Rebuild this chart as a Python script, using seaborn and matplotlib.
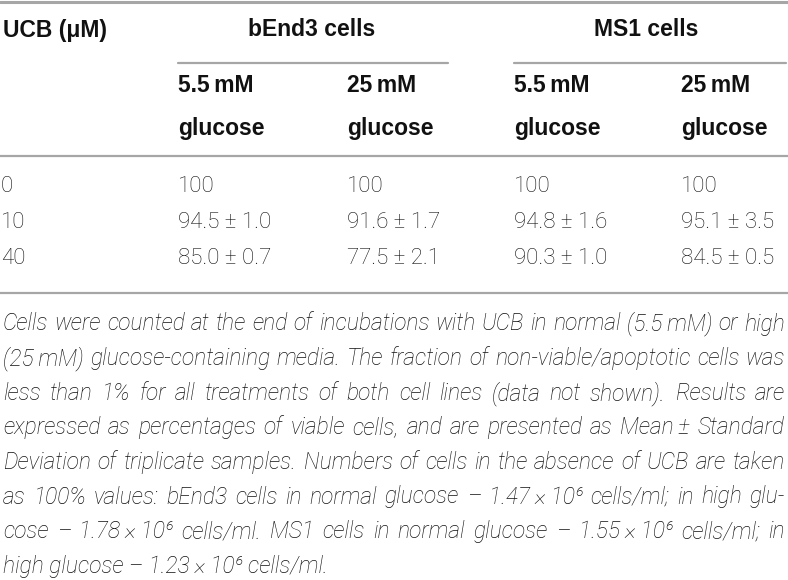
import matplotlib
matplotlib.use("Agg")
import matplotlib.pyplot as plt
import seaborn as sns

# -----------------------------
# Table data
# -----------------------------
ucb_doses = ["0", "10", "40"]
cell_lines = ["bEnd3 cells", "MS1 cells"]
glucose_levels = ["5.5\u2009mM\nglucose", "25\u2009mM\nglucose"]

bend3_normal_mean = [100, 94.5, 85.0]
bend3_normal_sd = [None, 1.0, 0.7]
bend3_high_mean = [100, 91.6, 77.5]
bend3_high_sd = [None, 1.7, 2.1]
ms1_normal_mean = [100, 94.8, 90.3]
ms1_normal_sd = [None, 1.6, 1.0]
ms1_high_mean = [100, 95.1, 84.5]
ms1_high_sd = [None, 3.5, 0.5]

caption_lines = [
    "Cells were counted at the end of incubations with UCB in normal (5.5\u2009mM) or high",
    "(25\u2009mM) glucose-containing media. The fraction of non-viable/apoptotic cells was",
    "less than 1% for all treatments of both cell lines (data not shown). Results are",
    "expressed as percentages of viable cells, and are presented as Mean\u2009± Standard",
    "Deviation of triplicate samples. Numbers of cells in the absence of UCB are taken",
    "as 100% values: bEnd3 cells in normal glucose \u2013 1.47\u2009×\u200910\u2076 cells/ml; in high glu-",
    "cose \u2013 1.78\u2009×\u200910\u2076 cells/ml. MS1 cells in normal glucose \u2013 1.55\u2009×\u200910\u2076 cells/ml; in",
    "high glucose \u2013 1.23\u2009×\u200910\u2076 cells/ml.",
]

sns.set_theme(style="white")
plt.rcParams["font.family"] = ["Roboto", "DejaVu Sans"]

BOLD = ["Liberation Sans", "DejaVu Sans"]
LIGHT = ["Roboto", "DejaVu Sans"]
RULE = "#a6a6a6"
INK = "#111111"

fig = plt.figure(figsize=(7.88, 5.80), dpi=100)
ax = fig.add_axes([0, 0, 1, 1])
ax.set_xlim(0, 788)
ax.set_ylim(580, 0)
ax.axis("off")
renderer = fig.canvas.get_renderer()


def text_width(s, **kw):
    t = ax.text(0, 0, s, **kw)
    w = t.get_window_extent(renderer).width
    t.remove()
    return w


# rules
ax.axhline(2, color=RULE, lw=2.2)
ax.plot([178, 448], [63, 63], color=RULE, lw=1.6)
ax.plot([514, 786], [63, 63], color=RULE, lw=1.6)
ax.axhline(156, color=RULE, lw=1.6)
ax.axhline(293, color=RULE, lw=1.6)

# header
hdr = dict(family=BOLD, weight="bold", fontsize=16.5, va="center", color=INK)
ax.text(3, 30, "UCB (\u03bcM)", ha="left", **hdr)
col_x = [178, 347, 514, 681]
group_center = [312, 646]
for name, cx in zip(cell_lines, group_center):
    ax.text(cx, 30, name, ha="center", **hdr)
for i, x in enumerate(col_x):
    top, bottom = glucose_levels[i % 2].split("\n")
    ax.text(x, 86, top, ha="left", **hdr)
    ax.text(x, 128, bottom, ha="left", **hdr)

# body
columns = [
    (bend3_normal_mean, bend3_normal_sd),
    (bend3_high_mean, bend3_high_sd),
    (ms1_normal_mean, ms1_normal_sd),
    (ms1_high_mean, ms1_high_sd),
]
row_y = [186, 222, 258]
body = dict(family=LIGHT, weight="light", fontsize=16, va="center", ha="left", color=INK)
for r, y in enumerate(row_y):
    ax.text(1, y, ucb_doses[r], **body)
    for (means, sds), x in zip(columns, col_x):
        if sds[r] is None:
            s = f"{means[r]:.0f}"
        else:
            s = f"{means[r]:.1f} ± {sds[r]:.1f}"
        ax.text(x, y, s, **body)

# caption, justified between the margins
left, right = 3, 785
cap = dict(family=LIGHT, weight="light", style="italic", fontsize=15, va="center", ha="left", color=INK)
natural = max(text_width(l, **cap) for l in caption_lines[:-1])
cap["fontsize"] = 15 * (right - left - 4) / natural

for k, line in enumerate(caption_lines):
    y = 324 + k * 34.6
    words = line.split(" ")
    if k == len(caption_lines) - 1:
        ax.text(left, y, line, **cap)
        continue
    widths = [text_width(w, **cap) for w in words]
    gap = (right - left - sum(widths)) / (len(words) - 1)
    x = left
    for w, wd in zip(words, widths):
        ax.text(x, y, w, **cap)
        x += wd + gap

fig.savefig("out.png", dpi=100)
